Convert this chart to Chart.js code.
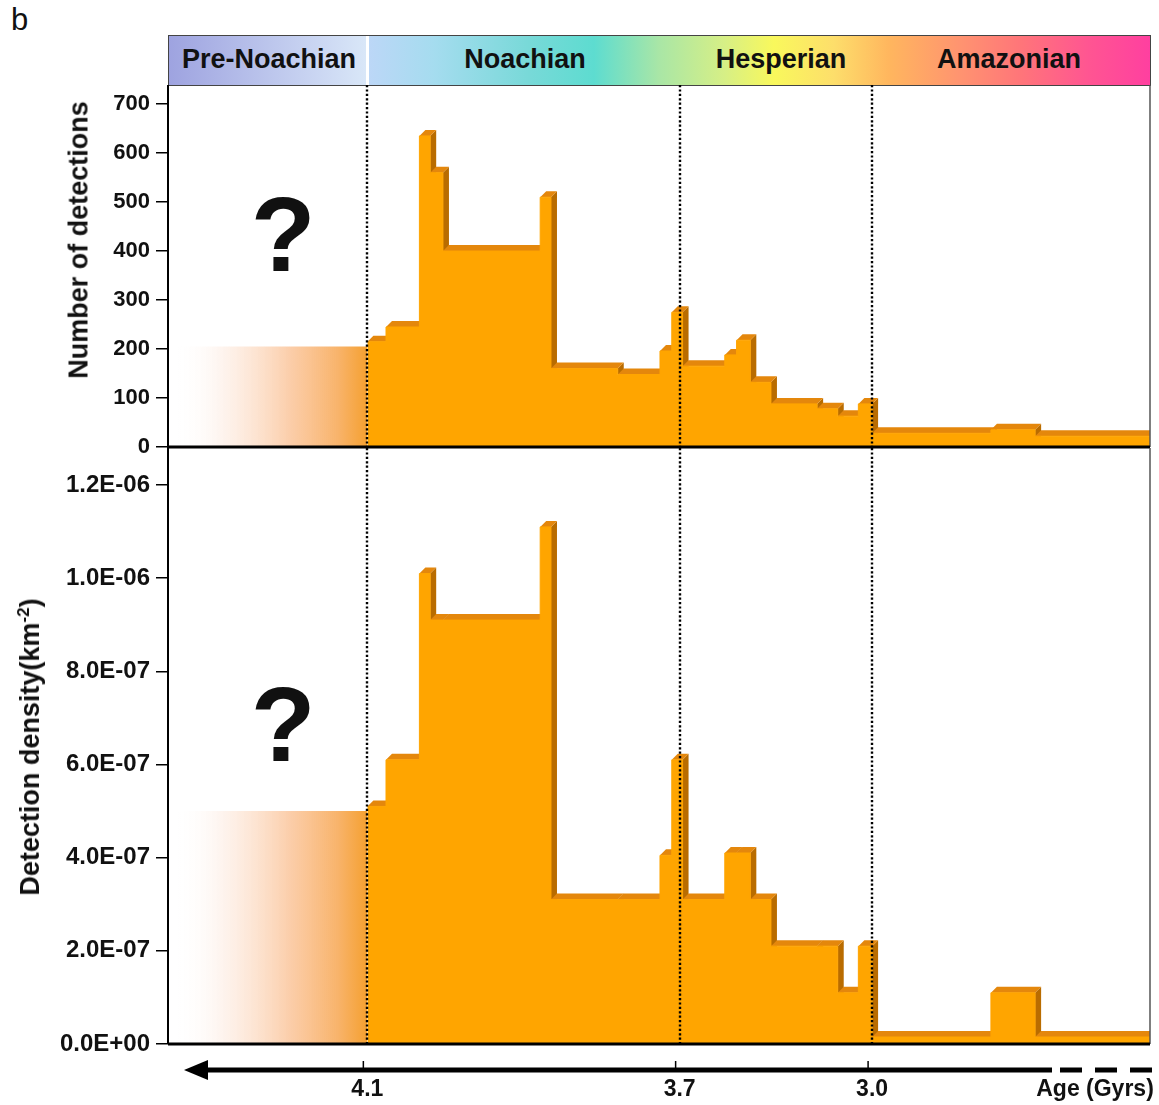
<!DOCTYPE html>
<html>
<head>
<meta charset="utf-8">
<script src="https://cdn.jsdelivr.net/npm/chart.js@4.4.0/dist/chart.umd.min.js"></script>
<style>
  body { margin:0; width:1159px; height:1105px; background:#fff; position:relative; overflow:hidden;
         font-family:"Liberation Sans", Arial, sans-serif; color:#111; }
  .panel { position:absolute; left:0; width:1159px; }
  #topPanel { top:85px; height:376px; }
  #botPanel { top:446px; height:659px; }
  #tag { position:absolute; left:11px; top:2px; font-size:31px; }
  #epochs { position:absolute; left:168px; top:35px; width:983px; height:51px; box-sizing:border-box;
            border:1.5px solid #444;
            background: linear-gradient(to right, #9ea3e0 0px, #d9e7f8 197px, #fff 197px, #fff 200px,
              #bcd7f7 200px, #a5dcef 265px, #78d9d8 360px, #5ddcd0 425px, #a9e6a6 490px, #d6ef86 555px,
              #f9f85c 605px, #fdde6b 665px, #ffb65e 720px, #ff9470 790px, #ff7679 850px, #ff5592 920px, #ff3fa0 982px); }
  .ep { position:absolute; top:0; line-height:47px; font-weight:bold; font-size:27px; transform:translateX(-50%); white-space:nowrap; }
  .ytitle { position:absolute; white-space:nowrap; font-weight:bold; font-size:27px; transform:translate(-50%,-50%) rotate(-90deg); }
  .ytitle sup { font-size:17px; }
  .q { position:absolute; left:250px; width:66px; text-align:center; font-weight:bold; font-size:106px; line-height:1; }
</style>
</head>
<body>
<div id="tag">b</div>
<div id="epochs">
  <span class="ep" style="left:100px">Pre-Noachian</span>
  <span class="ep" style="left:356px">Noachian</span>
  <span class="ep" style="left:612px">Hesperian</span>
  <span class="ep" style="left:840px">Amazonian</span>
</div>
<div class="panel" id="topPanel"><canvas id="topChart"></canvas></div>
<div class="panel" id="botPanel"><canvas id="botChart"></canvas></div>
<div class="ytitle" style="left:79px; top:240px">Number of detections</div>
<div class="ytitle" style="left:30px; top:747px">Detection density(km<sup>-2</sup>)</div>
<div class="q" style="top:181px">?</div>
<div class="q" style="top:671px">?</div>

<script>
// bin edges on the (non-linear) age axis, 0 = left edge, 100 = right edge
const binEdges = [20.3, 22.2, 25.6, 26.7, 28.0, 37.9, 39.0, 45.8, 50.1, 51.3, 52.4,
                  56.7, 57.9, 59.3, 61.4, 66.1, 68.2, 70.3, 71.7, 83.8, 88.3, 100];
const detections = [215, 245, 635, 560, 400, 510, 160, 148, 196, 275, 165,
                    188, 218, 132, 88, 78, 63, 88, 28, 35, 22];
const density = [5.1e-7, 6.1e-7, 1.01e-6, 9.1e-7, 9.1e-7, 1.11e-6, 3.1e-7, 3.1e-7, 4.05e-7, 6.1e-7, 3.1e-7,
                 4.1e-7, 4.1e-7, 3.1e-7, 2.1e-7, 2.1e-7, 1.1e-7, 2.1e-7, 1.5e-8, 1.1e-7, 1.5e-8];
// pre-Noachian (uncertain) extrapolation
const preNoachianSpan = [0.7, 20.3];
const preDetections = 205;
const preDensity = 5.0e-7;
// epoch boundaries and their ages
const epochBounds = [20.3, 52.1, 71.7];
const ageLabels = ['4.1', '3.7', '3.0'];
const detectionTicks = [0, 100, 200, 300, 400, 500, 600, 700];
const densityTicks = [0, 2e-7, 4e-7, 6e-7, 8e-7, 1.0e-6, 1.2e-6];

const family = '"Liberation Sans", Arial, sans-serif';
const orange = '#ffa500';
const depth = 6;

function stepPoints(values) {
    const pts = values.map((v, i) => ({x: binEdges[i], y: v}));
    pts.push({x: binEdges[values.length], y: values[values.length - 1]});
    return pts;
}

function preGradient(context) {
    const chart = context.chart;
    if (!chart.chartArea) return 'rgba(0,0,0,0)';
    const xs = chart.scales.x;
    const g = chart.ctx.createLinearGradient(xs.getPixelForValue(preNoachianSpan[0]), 0,
                                             xs.getPixelForValue(preNoachianSpan[1]), 0);
    g.addColorStop(0, 'rgba(255,255,255,0)');
    g.addColorStop(0.25, 'rgba(253,236,226,0.6)');
    g.addColorStop(0.6, 'rgba(251,200,160,0.9)');
    g.addColorStop(0.85, '#f8b36a');
    g.addColorStop(1, '#f5a030');
    return g;
}

function sciLabel(v) {
    const [m, e] = Number(v).toExponential(1).split('e');
    return m + 'E' + e[0] + e.slice(1).padStart(2, '0');
}

// 3D top and side faces for each bin
const relief = {
    id: 'relief',
    beforeDatasetsDraw(chart, args, opts) {
        const {ctx, chartArea: a, scales: {x, y}} = chart;
        const vals = opts.values;
        const base = y.getPixelForValue(0);
        ctx.save();
        ctx.beginPath();
        ctx.rect(a.left, a.top, a.right - a.left, a.bottom - a.top);
        ctx.clip();
        for (let i = 0; i < vals.length; i++) {
            const x0 = x.getPixelForValue(binEdges[i]);
            const x1 = x.getPixelForValue(binEdges[i + 1]);
            const top = y.getPixelForValue(vals[i]);
            ctx.fillStyle = '#b96c00';
            ctx.beginPath();
            ctx.moveTo(x1, top); ctx.lineTo(x1 + depth, top - depth);
            ctx.lineTo(x1 + depth, base); ctx.lineTo(x1, base);
            ctx.closePath(); ctx.fill();
            ctx.fillStyle = '#e4870c';
            ctx.beginPath();
            ctx.moveTo(x0, top); ctx.lineTo(x0 + depth, top - depth);
            ctx.lineTo(x1 + depth, top - depth); ctx.lineTo(x1, top);
            ctx.closePath(); ctx.fill();
        }
        ctx.restore();
    }
};

// dotted epoch lines and frame
const frame = {
    id: 'frame',
    afterDatasetsDraw(chart) {
        const {ctx, chartArea: a, scales: {x}} = chart;
        ctx.save();
        ctx.strokeStyle = '#000';
        ctx.lineWidth = 2.4;
        ctx.setLineDash([2.2, 2.2]);
        epochBounds.forEach(b => {
            const px = Math.round(x.getPixelForValue(b));
            ctx.beginPath(); ctx.moveTo(px, a.top); ctx.lineTo(px, a.bottom); ctx.stroke();
        });
        ctx.setLineDash([]);
        ctx.strokeStyle = '#555';
        ctx.lineWidth = 1.5;
        ctx.beginPath(); ctx.moveTo(a.right, a.top); ctx.lineTo(a.right, a.bottom); ctx.stroke();
        ctx.strokeStyle = '#000';
        ctx.lineWidth = 3;
        ctx.beginPath(); ctx.moveTo(a.left, a.bottom); ctx.lineTo(a.right, a.bottom); ctx.stroke();
        ctx.restore();
    }
};

// time arrow below the lower panel
const arrow = {
    id: 'arrow',
    afterDraw(chart) {
        const {ctx, chartArea: a, scales: {x}} = chart;
        const ay = a.bottom + 26;
        ctx.save();
        ctx.fillStyle = '#000';
        ctx.strokeStyle = '#000';
        ctx.lineWidth = 5;
        ctx.beginPath(); ctx.moveTo(a.left + 30, ay); ctx.lineTo(a.right - 98, ay); ctx.stroke();
        ctx.beginPath();
        ctx.moveTo(a.left + 16, ay); ctx.lineTo(a.left + 40, ay - 10); ctx.lineTo(a.left + 40, ay + 10);
        ctx.closePath(); ctx.fill();
        ctx.setLineDash([22, 13]);
        ctx.beginPath(); ctx.moveTo(a.right - 90, ay); ctx.lineTo(a.right + 9, ay); ctx.stroke();
        ctx.setLineDash([]);
        ctx.lineWidth = 1.5;
        epochBounds.forEach(b => {
            const px = x.getPixelForValue(b) - 4;
            ctx.beginPath(); ctx.moveTo(px, ay - 9); ctx.lineTo(px, ay); ctx.stroke();
        });
        ctx.restore();
    }
};

function yAxis(ticks, max, fmt, size) {
    return {
        min: 0,
        max: max,
        afterBuildTicks: s => { s.ticks = ticks.map(v => ({value: v})); },
        afterFit: s => { s.width = 168; s.paddingTop = 0; s.paddingBottom = 0; },
        border: {display: true, color: '#000', width: 2},
        grid: {drawOnChartArea: false, drawTicks: true, tickLength: 12, lineWidth: 1.5, color: '#000'},
        ticks: {font: {family, weight: 'bold', size: size}, color: '#111', padding: 6, callback: fmt}
    };
}

function makeChart(id, values, preValue, yOpts, xOpts, padding, plugins) {
    return new Chart(document.getElementById(id), {
        type: 'line',
        data: {
            datasets: [
                {
                    data: [{x: preNoachianSpan[0], y: preValue}, {x: preNoachianSpan[1], y: preValue}],
                    fill: 'origin',
                    backgroundColor: preGradient,
                    borderColor: 'rgba(0,0,0,0)',
                    borderWidth: 1,
                    pointRadius: 0
                },
                {
                    data: stepPoints(values),
                    stepped: 'before',
                    fill: 'origin',
                    backgroundColor: orange,
                    borderColor: orange,
                    borderWidth: 1,
                    pointRadius: 0
                }
            ]
        },
        options: {
            responsive: true,
            maintainAspectRatio: false,
            animation: false,
            layout: {padding: padding},
            plugins: {legend: {display: false}, tooltip: {enabled: false}, relief: {values: values}},
            scales: {x: xOpts, y: yOpts}
        },
        plugins: plugins
    });
}

const hiddenX = {type: 'linear', min: 0, max: 100, display: false};

makeChart('topChart', detections, preDetections,
    yAxis(detectionTicks, 739, v => v, 22),
    hiddenX,
    {left: 0, right: 9, top: 0, bottom: 14},
    [relief, frame]);

const xLabels = [...ageLabels, 'Age (Gyrs)'];
makeChart('botChart', density, preDensity,
    yAxis(densityTicks, 1.2794e-6, v => sciLabel(v), 24),
    {
        type: 'linear', min: 0, max: 100,
        afterBuildTicks: s => { s.ticks = [...epochBounds, 94.4].map(v => ({value: v})); },
        afterFit: s => { s.height = 61; s.paddingLeft = 0; s.paddingRight = 0; },
        border: {display: false},
        grid: {display: false, drawTicks: false},
        ticks: {font: {family, weight: 'bold', size: 23}, color: '#111', padding: 32,
                maxRotation: 0, autoSkip: false, callback: (v, i) => xLabels[i]}
    },
    {left: 0, right: 9, top: 2, bottom: 0},
    [relief, frame, arrow]);
</script>
</body>
</html>
